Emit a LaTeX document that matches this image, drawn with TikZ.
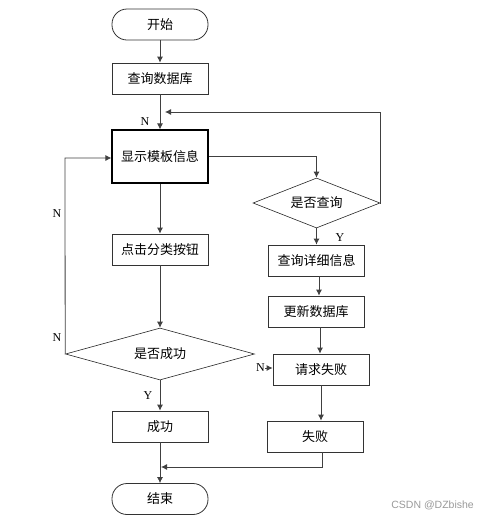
\documentclass[tikz,border=0pt]{standalone}
\usepackage{fontspec}
\setmainfont{Liberation Serif}
\newfontfamily\cjk{Noto Sans CJK SC}
\newfontfamily\wm{Liberation Sans}
\usetikzlibrary{shapes.geometric,arrows.meta}
\begin{document}
\begin{tikzpicture}[x=1pt,y=-1pt,
  box/.style={draw=black!80,line width=0.8pt,minimum width=96pt,minimum height=31pt,inner sep=0pt,font=\cjk\fontsize{13}{15}\selectfont},
  term/.style={box,rounded corners=15pt},
  dia/.style={draw=black!85,line width=0.6pt,diamond,aspect=2.5,inner sep=0pt,font=\cjk\fontsize{13}{15}\selectfont},
  arr/.style={draw=black!75,line width=0.8pt,-{Latex[length=6pt,width=6pt]}},
  ln/.style={draw=black!75,line width=0.8pt},
  lbl/.style={font=\fontsize{12}{14}\selectfont,inner sep=0pt}]
\useasboundingbox (0,0) rectangle (478,520);
\node[term] (start) at (160,24.5) {开始};
\node[box] (q) at (160,78.5) {查询数据库};
\node[box,draw=black,line width=1.2pt,minimum height=53pt] (show) at (160,156.5) {显示模板信息};
\node[box] (click) at (160,249.5) {点击分类按钮};
\node[dia,minimum width=189pt,minimum height=52pt] (ok) at (160,354) {是否成功};
\node[box] (succ) at (160,426.5) {成功};
\node[term] (end) at (160,499) {结束};
\node[dia,minimum width=127pt,minimum height=50pt] (ask) at (316.5,203) {是否查询};
\node[box] (detail) at (316.5,260.5) {查询详细信息};
\node[box] (upd) at (316,311.5) {更新数据库};
\node[box] (fail1) at (321,369.5) {请求失败};
\node[box] (fail2) at (315,436.5) {失败};
\coordinate (loop) at (165,112);
\coordinate (join) at (161,467);
\coordinate (nstart) at (265,368);
\draw[arr] (start) -- (q);
\draw[arr] (q) -- (show);
\draw[arr] (ask.east) -- (380,203) |- (loop);
\draw[arr] (show.east) -| (ask.north);
\draw[arr] (show) -- (click);
\draw[arr] (click) -- (ok);
\draw[arr] (ok.west) -- (65,158) -- (show.west |- 0,158);
\draw[arr] (ask.south) -- (detail.north -| ask.south);
\draw[arr] (detail.south -| 319,0) -- (upd.north -| 319,0);
\draw[arr] (upd.south -| 320,0) -- (fail1.north -| 320,0);
\draw[arr] (fail1.south -| 321,0) -- (fail2.north -| 321,0);
\draw[arr] (nstart) -- (fail1.west |- nstart);
\draw[arr] (ok.south) -- (succ);
\draw[arr] (succ) -- (end);
\draw[arr] (fail2.south -| 322,0) |- (join);
\node[lbl] at (145,122) {N};
\node[lbl] at (340,238) {Y};
\node[lbl] at (57,214) {N};
\node[lbl] at (57,338) {N};
\node[lbl,anchor=east] at (nstart) {N};
\node[lbl] at (148,396) {Y};
\node[font=\wm\fontsize{10.5}{12}\selectfont,text=black!40,anchor=east,inner sep=0pt] at (474,505) {CSDN @DZbishe};
\end{tikzpicture}
\end{document}
